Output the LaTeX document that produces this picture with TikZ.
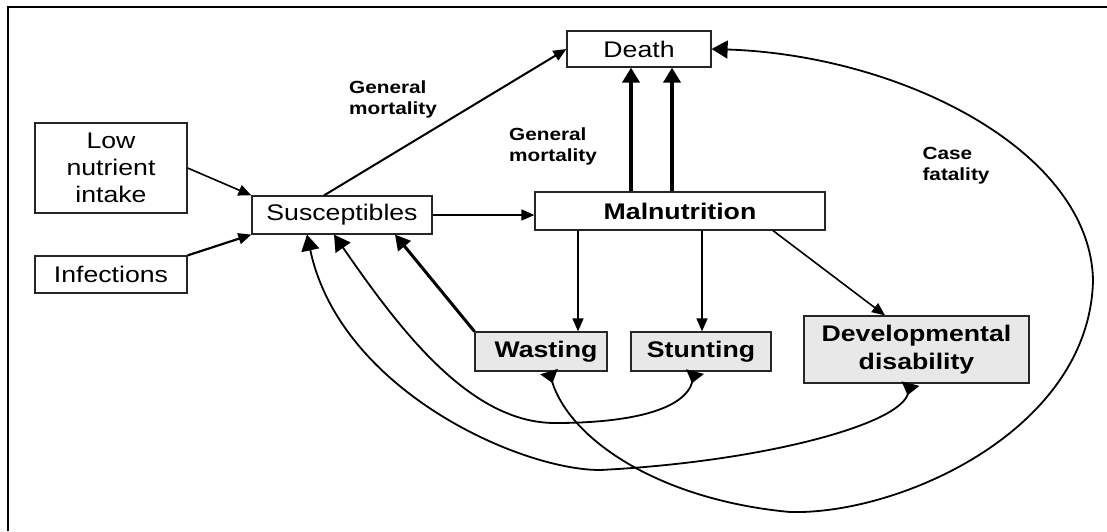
\documentclass[tikz,border=0pt]{standalone}
\usepackage{fontspec}
\setmainfont{Liberation Sans}[FakeStretch=1.18]
\usepackage{tikz}
\usetikzlibrary{arrows.meta}

\begin{document}
\begin{tikzpicture}[x=0.5pt,y=-0.5pt,
    box/.style={draw=black!85,line width=0.6pt,inner sep=0pt,align=center,
      font=\fontsize{11.3}{13.4}\selectfont},
    gbox/.style={box,fill=black!9,font=\fontsize{11.3}{14}\selectfont\bfseries},
    lbl/.style={align=left,inner sep=0pt,font=\fontsize{8.8}{10.5}\selectfont\bfseries},
    arr/.style={-{Triangle[length=6.5pt,width=5.5pt]},line width=0.8pt},
    tarr/.style={-{Triangle[length=7.5pt,width=8.5pt]},line width=1.8pt},
    back/.style={{Triangle[reversed,length=6pt,width=9pt]}-{Triangle[length=8pt,width=9pt]},line width=0.9pt}]
  \useasboundingbox (0,0) rectangle (1107,531);
  \draw[line width=1pt] (8,531) -- (8,7) -- (1107,7);

  \node[box,minimum width=76pt,minimum height=45pt] (Low) at (111,168) {Low\\nutrient\\intake};
  \node[box,minimum width=76pt,minimum height=18.5pt] (Inf) at (111,274.5) {Infections};
  \node[box,minimum width=90pt,minimum height=19pt] (Sus) at (342,215) {Susceptibles};
  \node[box,minimum width=72pt,minimum height=18pt] (Death) at (639,49) {Death};
  \node[box,minimum width=145pt,minimum height=19pt,font=\fontsize{11.3}{13.4}\selectfont\bfseries] (Mal) at (680,211) {Malnutrition};
  \node[gbox,minimum width=66pt,minimum height=19.5pt] (Was) at (541,351.5) {\hspace{5pt}Wasting};
  \node[gbox,minimum width=70pt,minimum height=19.5pt] (Stu) at (701,351.5) {Stunting};
  \node[gbox,minimum width=112.5pt,minimum height=33.5pt] (Dev) at (916.5,349.5) {Developmental\\disability};

  \node[lbl] (GenA) at (393,99) {General\\mortality};
  \node[lbl] (GenB) at (553,146) {General\\mortality};
  \node[lbl] (Case) at (956,166) {Case\\fatality};

  \draw[arr] (Low.east) -- (Sus.north west);
  \draw[arr,line width=1.1pt] (Inf.north east) -- (Sus.south west);
  \draw[arr,line width=1pt] ([xshift=-9pt]Sus.north) -- (Death.west);
  \draw[arr] (Sus.east) -- (Sus.east -| Mal.west);
  \draw[tarr] ([xshift=-24.5pt]Mal.north) -- ([xshift=-24.5pt]Mal.north |- Death.south);
  \draw[tarr] ([xshift=-4pt]Mal.north) -- ([xshift=-4pt]Mal.north |- Death.south);
  \draw[arr] ([xshift=-51pt]Mal.south) -- ([xshift=-51pt]Mal.south |- Was.north);
  \draw[arr] ([xshift=11pt]Mal.south) -- ([xshift=11pt]Mal.south |- Stu.north);
  \draw[arr] ([xshift=46.5pt]Mal.south) -- ([xshift=-15.75pt]Dev.north);
  \draw[arr,line width=1.5pt,-{Triangle[length=7.5pt,width=8pt]}] (Was.north west) -- ([xshift=26.5pt]Sus.south);

  \draw[back] ([xshift=-3pt]Stu.south) .. controls (685,410) and (630,423) .. (555,423)
    .. controls (470,423) and (400,330) .. ([xshift=-4pt]Sus.south);
  \draw[back] ([xshift=-3pt]Dev.south) .. controls (900,425) and (760,462) .. (600,470)
    .. controls (520,470) and (340,390) .. ([xshift=-17.5pt]Sus.south);
  \draw[back] ([xshift=4pt]Was.south) .. controls (570,440) and (660,500) .. (790,512)
    .. controls (900,515) and (1090,430) .. (1093,280)
    .. controls (1090,150) and (900,55) .. (Death.east);
\end{tikzpicture}
\end{document}
